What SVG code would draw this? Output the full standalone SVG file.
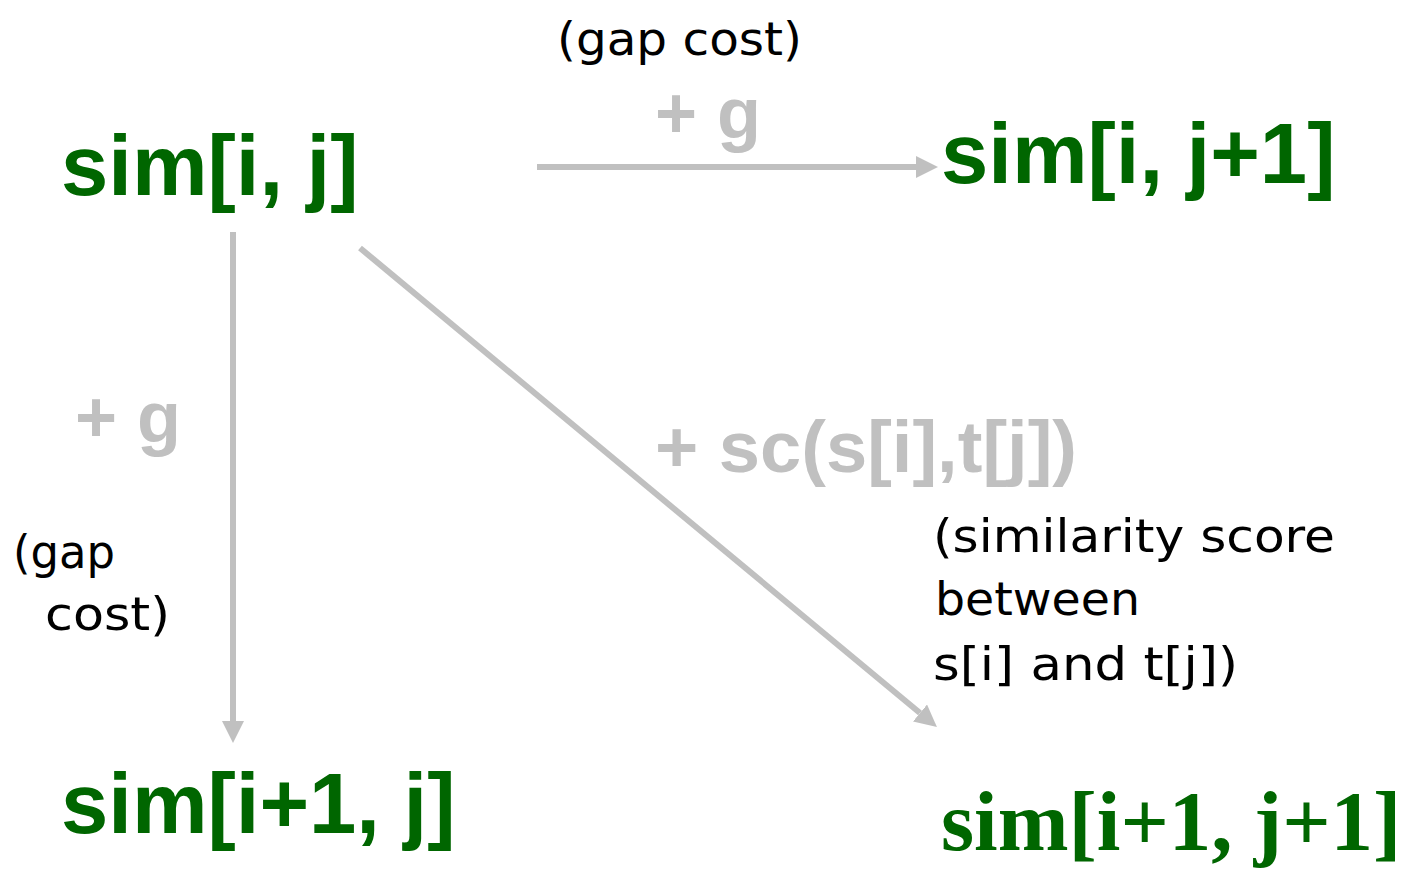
<svg xmlns="http://www.w3.org/2000/svg" width="1413" height="869" viewBox="0 0 1413 869">
<style>
.node{fill:#006600;font-family:"Liberation Sans",Arial,sans-serif;font-weight:bold;font-size:85px}
.nodeserif{fill:#006600;font-family:"Liberation Serif","Times New Roman",serif;font-weight:bold;font-size:85px}
.cost{fill:#c0c0c0;font-family:"Liberation Sans",Arial,sans-serif;font-weight:bold;font-size:72px}
.note{fill:#000;font-family:"DejaVu Sans","Noto Sans",sans-serif;font-size:47px}
.edge{stroke:#c0c0c0;stroke-width:6;fill:none}
</style>
<defs>
<marker id="arrow" markerUnits="userSpaceOnUse" markerWidth="24" markerHeight="24" refX="0" refY="11" orient="auto">
<path d="M0,0 L22,11 L0,22 Z" fill="#c0c0c0"/>
</marker>
</defs>
<g id="connectors">
<line class="edge" x1="537" y1="167" x2="916" y2="167" marker-end="url(#arrow)"/>
<line class="edge" x1="233" y1="232" x2="233" y2="721" marker-end="url(#arrow)"/>
<line class="edge" x1="360" y1="248" x2="920" y2="713" marker-end="url(#arrow)"/>
</g>
<g id="labels">
<text class="note" x="557" y="55" textLength="245" lengthAdjust="spacingAndGlyphs">(gap cost)</text>
<text class="cost" x="655" y="138">+ g</text>
<text class="cost" x="75" y="442">+ g</text>
<text class="cost" x="655" y="472" textLength="422" lengthAdjust="spacingAndGlyphs">+ sc(s[i],t[j])</text>
<text class="note" x="13" y="568" textLength="102" lengthAdjust="spacingAndGlyphs">(gap</text>
<text class="note" x="45" y="630" textLength="125" lengthAdjust="spacingAndGlyphs">cost)</text>
<text class="note" x="933" y="552" textLength="402" lengthAdjust="spacingAndGlyphs">(similarity score</text>
<text class="note" x="935" y="615" textLength="205" lengthAdjust="spacingAndGlyphs">between</text>
<text class="note" x="933" y="680" textLength="305" lengthAdjust="spacingAndGlyphs">s[i] and t[j])</text>
</g>
<g id="node-sim-i-j"><text class="node" x="61" y="195">sim[i, j]</text></g>
<g id="node-sim-i-j1"><text class="node" x="941" y="183">sim[i, j+1]</text></g>
<g id="node-sim-i1-j"><text class="node" x="61" y="833">sim[i+1, j]</text></g>
<g id="node-sim-i1-j1"><text class="nodeserif" x="941" y="850">sim[i+1, j+1]</text></g>
</svg>
